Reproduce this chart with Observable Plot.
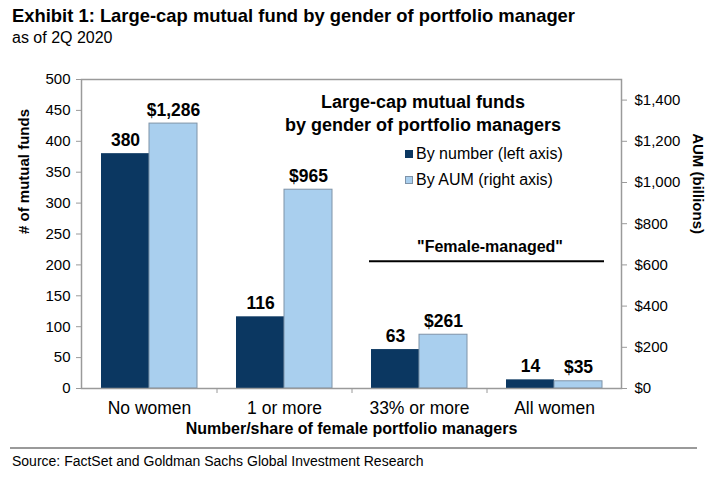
<!DOCTYPE html>
<html><head><meta charset="utf-8">
<script src="https://cdn.jsdelivr.net/npm/d3@7"></script>
<script src="https://cdn.jsdelivr.net/npm/@observablehq/plot@0.6"></script>
<style>
body{margin:0;background:#fff;font-family:"Liberation Sans",Arial,sans-serif;color:#000;}
#wrap{position:relative;width:721px;height:477px;overflow:hidden;}
#title{position:absolute;left:12px;top:5px;font-size:18.4px;font-weight:bold;white-space:nowrap;}
#subtitle{position:absolute;left:12px;top:29px;font-size:16px;white-space:nowrap;}
#chart{position:absolute;left:0;top:60px;}
#legend{position:absolute;left:0;top:0;width:721px;pointer-events:none;}
.lt{position:absolute;left:262px;width:322px;text-align:center;font-weight:bold;font-size:18px;line-height:23px;top:91px;}
.li{position:absolute;left:405px;font-size:16px;white-space:nowrap;}
.sw{display:inline-block;width:8px;height:8px;margin-right:3px;vertical-align:1px;box-sizing:border-box;}
#foot{position:absolute;left:10px;top:447px;width:687px;height:0;border-top:2px solid #9a9a9a;}
#source{position:absolute;left:12px;top:453px;font-size:14px;white-space:nowrap;}
</style></head><body>
<div id="wrap">
  <div id="title">Exhibit 1: Large-cap mutual fund by gender of portfolio manager</div>
  <div id="subtitle">as of 2Q 2020</div>
  <div id="chart"></div>
  <div id="legend">
    <div class="lt">Large-cap mutual funds<br>by gender of portfolio managers</div>
    <div class="li" style="top:145px"><span class="sw" style="background:#0b3761;border:1px solid #0b3761"></span>By number (left axis)</div>
    <div class="li" style="top:171px"><span class="sw" style="background:#a9cfee;border:1px solid #7f93a8"></span>By AUM (right axis)</div>
  </div>
  <div id="foot"></div>
  <div id="source">Source: FactSet and Goldman Sachs Global Investment Research</div>
</div>
<script>
const categories = ["No women", "1 or more", "33% or more", "All women"];
const fundCounts = [380, 116, 63, 14];
const aumBillions = [1286, 965, 261, 35];
const leftTicks = [0, 50, 100, 150, 200, 250, 300, 350, 400, 450, 500];
const rightTicks = [0, 200, 400, 600, 800, 1000, 1200, 1400];
const aumToCount = 500 / 1500; // right axis 0–1500 mapped onto left 0–500
const femaleLevel = 206;

const darkBlue = "#0b3761";
const lightBlue = "#a9cfee";
const gray = "#9a9a9a";
const fmt = d3.format(",");

const rows = categories.map((c, i) => ({
  category: c,
  count: fundCounts[i],
  aum: aumBillions[i],
  aumScaled: aumBillions[i] * aumToCount
}));

const chart = Plot.plot({
  width: 721,
  height: 385,
  marginTop: 19,
  marginBottom: 57,
  marginLeft: 81,
  marginRight: 100,
  style: {fontFamily: "'Liberation Sans', Arial, sans-serif", background: "white", color: "black"},
  x: {type: "band", domain: categories, paddingInner: 0.289, paddingOuter: 0.1445, label: null},
  y: {domain: [0, 500], label: null},
  marks: [
    Plot.barY(rows, {x: "category", y: "count", fill: darkBlue, insetRight: 48}),
    Plot.barY(rows, {x: "category", y: "aumScaled", fill: lightBlue, stroke: "#7f93a8", strokeWidth: 1, insetLeft: 48}),
    Plot.frame({stroke: gray, strokeWidth: 1.5}),
    Plot.axisY(leftTicks, {anchor: "left", tickSize: 5, tickPadding: 6, fontSize: 15, stroke: gray, fill: "black", label: null}),
    Plot.axisY(rightTicks.map(v => v * aumToCount), {anchor: "right", tickSize: 5, tickPadding: 8, fontSize: 15, stroke: gray, fill: "black", label: null,
      tickFormat: v => "$" + fmt(Math.round(v / aumToCount))}),
    Plot.axisX({tickSize: 0, tickPadding: 13, fontSize: 17.5, fill: "black", label: null}),
    Plot.axisX(categories.slice(1), {tickSize: 5, fill: "none", stroke: gray, dx: -67.5, label: null}),
    Plot.text(rows, {x: "category", y: "count", text: d => String(d.count), dx: -24, dy: -8, lineAnchor: "bottom", fontWeight: "bold", fontSize: 17.5}),
    Plot.text(rows, {x: "category", y: "aumScaled", text: d => "$" + fmt(d.aum), dx: 24, dy: -8, lineAnchor: "bottom", fontWeight: "bold", fontSize: 17.5}),
    Plot.ruleY([{y: femaleLevel, x1: "33% or more", x2: "All women"}], {y: "y", x1: "x1", x2: "x2", stroke: "black", strokeWidth: 2, insetLeft: -2, insetRight: -2}),
    Plot.text([{y: femaleLevel, x: "All women"}], {x: "x", y: "y", text: () => "\"Female-managed\"", dx: -64.5, dy: -9, lineAnchor: "bottom", fontWeight: "bold", fontSize: 16}),
    Plot.text(["# of mutual funds"], {frameAnchor: "left", text: d => d, rotate: -90, dx: -57, fontWeight: "bold", fontSize: 15}),
    Plot.text(["AUM (billions)"], {frameAnchor: "right", text: d => d, rotate: 90, dx: 76, fontWeight: "bold", fontSize: 15}),
    Plot.text(["Number/share of female portfolio managers"], {frameAnchor: "bottom", text: d => d, dy: 45, fontWeight: "bold", fontSize: 16})
  ]
});
document.getElementById("chart").appendChild(chart);
</script>
</body></html>
